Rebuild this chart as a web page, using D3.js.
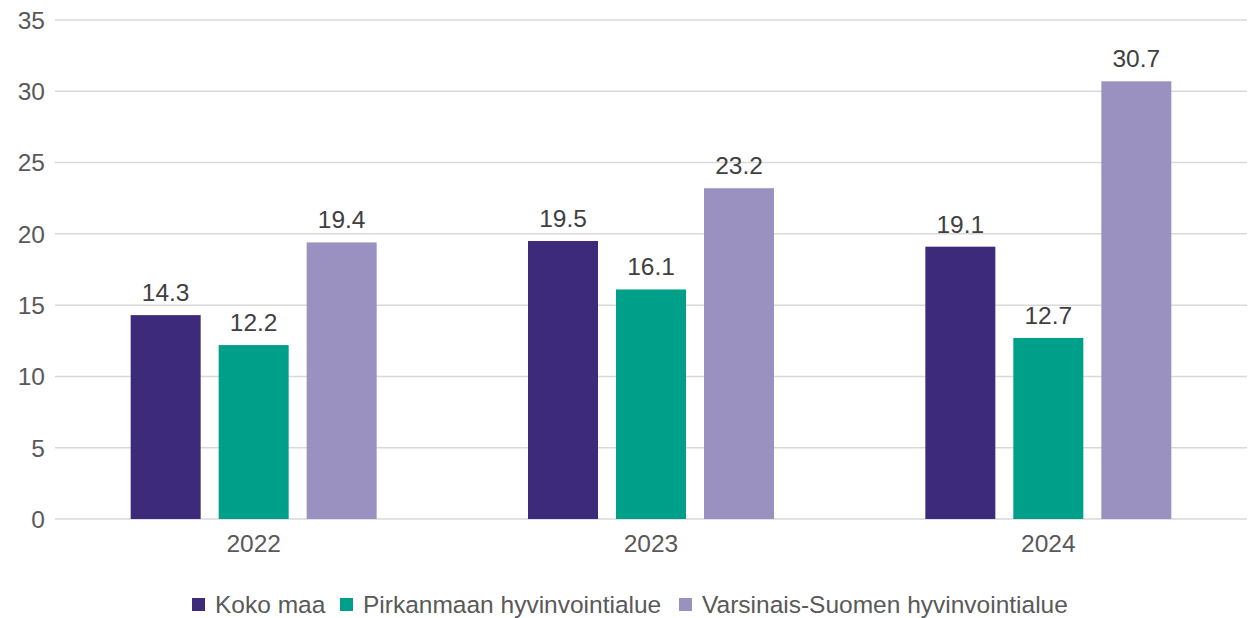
<!DOCTYPE html>
<html>
<head>
<meta charset="utf-8">
<script src="https://cdn.jsdelivr.net/npm/d3@7"></script>
<style>
    body { margin: 0; background: #fff; }
    svg { display: block; font-family: "Liberation Sans", Arial, sans-serif; }
</style>
</head>
<body>
<div id="chart"></div>
<script>
const years = ["2022", "2023", "2024"];
const seriesNames = ["Koko maa", "Pirkanmaan hyvinvointialue", "Varsinais-Suomen hyvinvointialue"];
const kokoMaa = [14.3, 19.5, 19.1];
const pirkanmaa = [12.2, 16.1, 12.7];
const varsinaisSuomi = [19.4, 23.2, 30.7];
const yTicks = [0, 5, 10, 15, 20, 25, 30, 35];
const colors = ["#3d2a7a", "#009f8a", "#9b91c1"];

const allSeries = [kokoMaa, pirkanmaa, varsinaisSuomi];
const width = 1253, height = 618;
const fontSize = "24.5px";

const svg = d3.select("#chart").append("svg")
    .attr("width", width)
    .attr("height", height);

const x = d3.scaleBand()
    .domain(years)
    .range([55, 1247]);

const groupWidth = 246;
const xSub = d3.scaleBand()
    .domain(seriesNames)
    .range([-groupWidth / 2, groupWidth / 2])
    .paddingInner(18 / 88);

const y = d3.scaleLinear()
    .domain([0, 35])
    .range([519, 20]);

// gridlines
svg.append("g")
    .selectAll("line")
    .data(yTicks)
    .enter().append("line")
    .attr("x1", 55)
    .attr("x2", 1247)
    .attr("y1", d => y(d))
    .attr("y2", d => y(d))
    .attr("stroke", "#d9d9d9")
    .attr("stroke-width", 1.5);

// y tick labels
svg.append("g")
    .selectAll("text")
    .data(yTicks)
    .enter().append("text")
    .attr("x", 45)
    .attr("y", d => y(d))
    .attr("dy", "0.36em")
    .attr("text-anchor", "end")
    .style("font-size", fontSize)
    .style("fill", "#595959")
    .text(d => d);

// bars
const barData = [];
allSeries.forEach((values, si) => {
    values.forEach((v, yi) => barData.push({ year: years[yi], series: seriesNames[si], si, value: v }));
});

svg.append("g")
    .selectAll("rect")
    .data(barData)
    .enter().append("rect")
    .attr("x", d => x(d.year) + x.bandwidth() / 2 + xSub(d.series))
    .attr("y", d => y(d.value))
    .attr("width", xSub.bandwidth())
    .attr("height", d => y(0) - y(d.value))
    .attr("fill", d => colors[d.si]);

// value labels
svg.append("g")
    .selectAll("text")
    .data(barData)
    .enter().append("text")
    .attr("x", d => x(d.year) + x.bandwidth() / 2 + xSub(d.series) + xSub.bandwidth() / 2)
    .attr("y", d => y(d.value) - 14)
    .attr("text-anchor", "middle")
    .style("font-size", fontSize)
    .style("fill", "#404040")
    .text(d => d.value.toFixed(1));

// x axis labels
svg.append("g")
    .selectAll("text")
    .data(years)
    .enter().append("text")
    .attr("x", d => x(d) + x.bandwidth() / 2)
    .attr("y", 552)
    .attr("text-anchor", "middle")
    .style("font-size", fontSize)
    .style("fill", "#595959")
    .text(d => d);

// legend
const legendX = [192, 340, 679];
const legend = svg.append("g");
const legendItems = legend.selectAll("g")
    .data(seriesNames)
    .enter().append("g")
    .attr("transform", (d, i) => `translate(${legendX[i]}, 598)`);

legendItems.append("rect")
    .attr("width", 13)
    .attr("height", 13)
    .attr("fill", (d, i) => colors[i]);

legendItems.append("text")
    .attr("x", 23)
    .attr("y", 6.5)
    .attr("dy", "0.36em")
    .style("font-size", fontSize)
    .style("fill", "#595959")
    .text(d => d);
</script>
</body>
</html>
